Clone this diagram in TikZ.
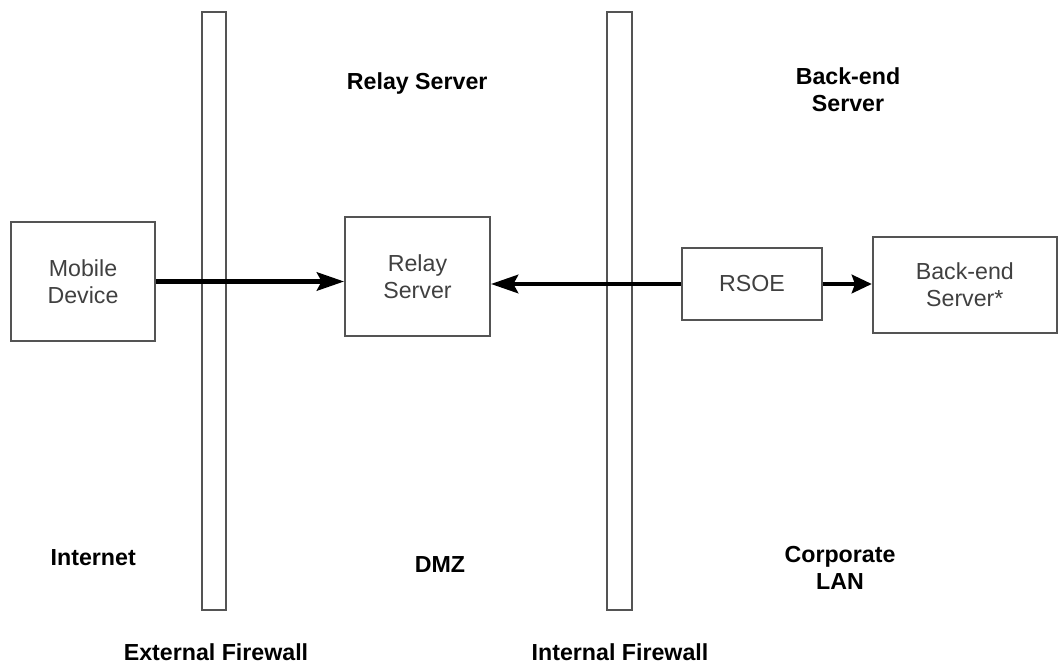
\documentclass[tikz,border=0pt]{standalone}
\usepackage{fontspec}
\setmainfont{Liberation Sans}
\usetikzlibrary{arrows.meta}
\definecolor{edge}{rgb}{0.33,0.33,0.33}
\definecolor{txt}{rgb}{0.25,0.25,0.25}

\begin{document}
\begin{tikzpicture}
	\tikzstyle{every node} =[font=\fontsize{16.5}{19.5}\selectfont, align=center];
	\tikzstyle{box} =[draw=edge, line width=1.4pt, text=txt, inner sep=0pt];
	\tikzstyle{zone} =[font=\fontsize{16.5}{19.5}\selectfont\bfseries];
	\tikzstyle{link} =[line width=3pt, -{Stealth[length=0.68cm, width=0.46cm, inset=0.12cm]}];
	\useasboundingbox (0,0) rectangle (26.45,16.625);

	% firewalls
	\draw [edge, line width=1.3pt] (5.05,1.375) rectangle (5.65,16.325);
	\draw [edge, line width=1.3pt] (15.175,1.375) rectangle (15.8,16.325);

	\node [box, minimum width=3.6cm, minimum height=2.975cm] (mobile) at (2.075,9.5875) {Mobile\\Device};
	\node [box, minimum width=3.625cm, minimum height=2.975cm] (relay) at (10.4375,9.7125) {Relay\\Server};
	\node [box, minimum width=3.5cm, minimum height=1.8cm] (rsoe) at (18.8,9.525) {RSOE};
	\node [box, minimum width=4.6cm, minimum height=2.4cm] (backend) at (24.12,9.5) {Back-end\\Server*};

	\draw [link] (mobile.east) -- (mobile.east -| relay.west);
	\draw [link] (rsoe.west) -- (rsoe.west -| relay.east);
	\draw [link, -{Stealth[length=0.5cm, width=0.46cm, inset=0.08cm]}] (rsoe.east) -- (rsoe.east -| backend.west);

	\node [zone] (lrelay) at (10.43,14.525) {Relay Server};
	\node [zone] (lback) at (21.2,14.375) {Back-end\\Server};
	\node [zone] (linet) at (2.33,2.675) {Internet};
	\node [zone] (ldmz) at (11.0,2.5) {DMZ};
	\node [zone] (lcorp) at (21.0,2.425) {Corporate\\LAN};
	\node [zone] (lext) at (5.4,0.33) {External Firewall};
	\node [zone] (lint) at (15.5,0.33) {Internal Firewall};
\end{tikzpicture}
\end{document}
